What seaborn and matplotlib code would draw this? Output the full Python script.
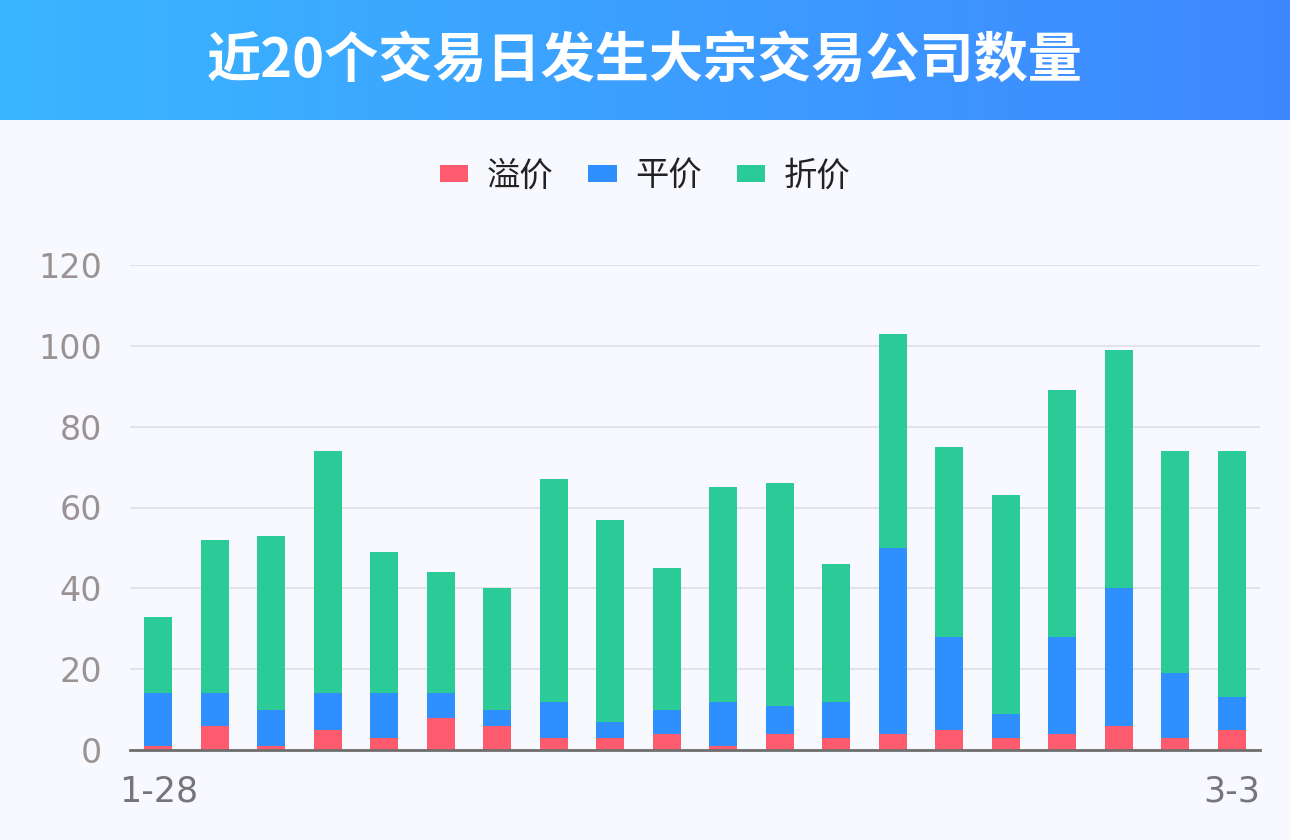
import numpy as np
import pandas as pd
import matplotlib
matplotlib.use("Agg")
import matplotlib.pyplot as plt
import seaborn as sns
from matplotlib.colors import LinearSegmentedColormap
from matplotlib.patches import FancyBboxPatch

dates = ["1-28", "2-7", "2-8", "2-9", "2-10", "2-11", "2-14", "2-15", "2-16", "2-17",
         "2-18", "2-21", "2-22", "2-23", "2-24", "2-25", "2-28", "3-1", "3-2", "3-3"]
premium = [1, 6, 1, 5, 3, 8, 6, 3, 3, 4, 1, 4, 3, 4, 5, 3, 4, 6, 3, 5]
flat = [13, 8, 9, 9, 11, 6, 4, 9, 4, 6, 11, 7, 9, 46, 23, 6, 24, 34, 16, 8]
discount = [19, 38, 43, 60, 35, 30, 30, 55, 50, 35, 53, 55, 34, 53, 47, 54, 61, 59, 55, 61]
series_names = ["溢价", "平价", "折价"]
colors = ["#FF5B6F", "#2F8FFF", "#2BCB97"]
title = "近20个交易日发生大宗交易公司数量"

sns.set_theme(style="white")
plt.rcParams['font.family'] = ['Noto Sans CJK SC', 'DejaVu Sans']

bg = "#F8F9FE"
fig = plt.figure(figsize=(12.9, 8.4), dpi=100, facecolor=bg)

# header gradient
hax = fig.add_axes([0, 720/840, 1, 120/840])
grad = np.linspace(0, 1, 256).reshape(1, -1)
cmap = LinearSegmentedColormap.from_list("hdr", ["#3AB6FF", "#3E88FF"])
hax.imshow(grad, aspect="auto", cmap=cmap, extent=[0, 1, 0, 1])
hax.set_axis_off()
fig.text(0.5, 1 - 62/840, title, ha="center", va="center", color="white",
         fontsize=39, fontweight="bold")

ax = fig.add_axes([130/1290, 90/840, 1130/1290, 485/840])
ax.set_facecolor(bg)

df = pd.DataFrame({"date": dates, "p": premium, "f": flat, "d": discount})
df["pf"] = df["p"] + df["f"]
df["total"] = df["pf"] + df["d"]

sns.barplot(data=df, x="date", y="total", color=colors[2], width=0.5, ax=ax,
            saturation=1, linewidth=0)
sns.barplot(data=df, x="date", y="pf", color=colors[1], width=0.5, ax=ax,
            saturation=1, linewidth=0)
sns.barplot(data=df, x="date", y="p", color=colors[0], width=0.5, ax=ax,
            saturation=1, linewidth=0)
if ax.get_legend() is not None:
    ax.get_legend().remove()

ax.set_xlim(-0.5, len(dates) - 0.5)
ax.set_ylim(0, 120)
ax.set_yticks(range(0, 121, 20))
ax.yaxis.grid(True, color="#E1E3EA", linewidth=1.5)
ax.set_axisbelow(True)
ax.set_xticks([0, len(dates) - 1])
ax.set_xticklabels([dates[0], dates[-1]])
ax.set_xlabel("")
ax.set_ylabel("")
for s in ["top", "right", "left"]:
    ax.spines[s].set_visible(False)
ax.spines["bottom"].set_color("#6E6E6E")
ax.spines["bottom"].set_linewidth(2)
ax.tick_params(axis="y", length=0, pad=20, labelsize=24, labelcolor="#9B9393")
ax.tick_params(axis="x", length=0, pad=18, labelsize=25, labelcolor="#76767A")
for lbl in ax.get_yticklabels():
    lbl.set_fontfamily(["DejaVu Sans"])
for lbl in ax.get_xticklabels():
    lbl.set_fontfamily(["DejaVu Sans"])

handles = [FancyBboxPatch((0, 0), 1, 1, boxstyle="round,pad=0,rounding_size=0.25",
                          facecolor=c, edgecolor="none") for c in colors]
leg = fig.legend(handles, series_names, loc="center", bbox_to_anchor=(0.5, 1 - 176/840),
                 ncol=3, frameon=False, fontsize=24, handlelength=0.85, handleheight=0.4,
                 handletextpad=0.55, columnspacing=1.05)
for t in leg.get_texts():
    t.set_color("#222222")

fig.savefig("out.png", dpi=100, facecolor=bg)
